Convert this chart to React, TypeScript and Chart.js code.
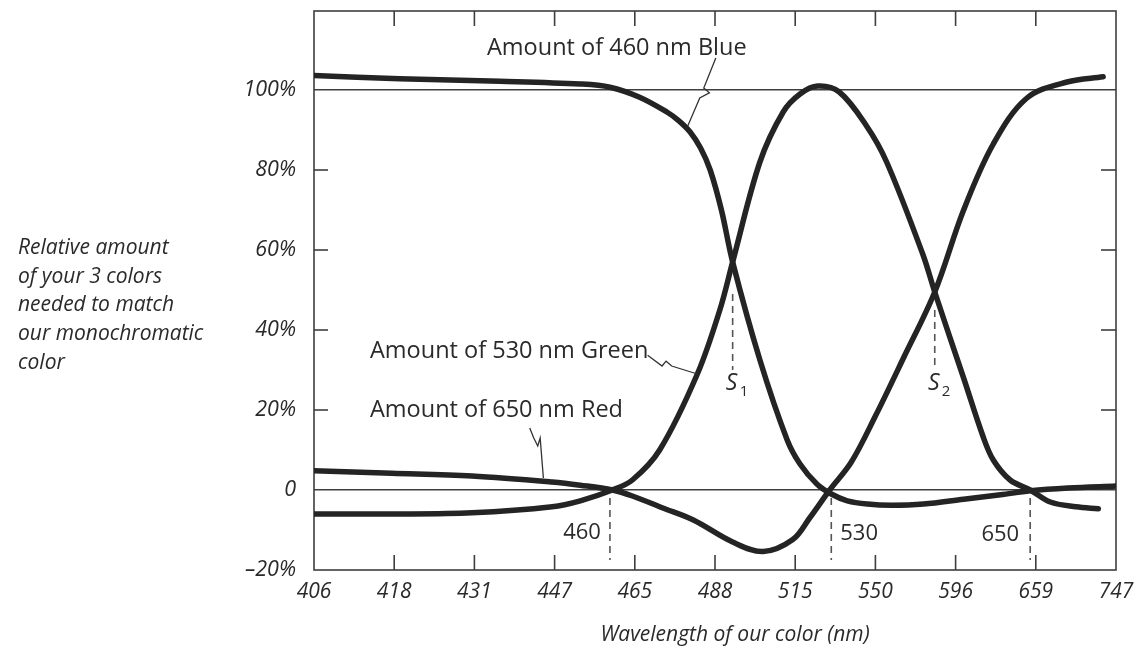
import { useEffect, useRef } from 'react';
import { Chart, registerables } from 'chart.js';

Chart.register(...registerables);

// ---- axis labels ----
const xTickLabels = ['406', '418', '431', '447', '465', '488', '515', '550', '596', '659', '747'];
const yTickValues = [-20, 0, 20, 40, 60, 80, 100];
const yTickLabels = ['–20%', '0', '20%', '40%', '60%', '80%', '100%'];
const yTitleLines = ['Relative amount', 'of your 3 colors', 'needed to match', 'our monochromatic', 'color'];
const xTitle = 'Wavelength of our color (nm)';

// ---- series (x in units of the evenly spaced wavelength ticks, y in %) ----
const blueX = [0, 1.07, 2.32, 3.32, 3.69, 4.06, 4.40, 4.55, 4.69, 4.82, 4.94, 5.08, 5.22, 5.56, 5.90, 6.06, 6.27, 6.45, 6.65, 6.90, 7.20, 7.60, 8.10, 8.56, 8.93, 9.40, 10];
const blueY = [103.6, 102.8, 102.2, 101.5, 100.7, 98.2, 94.5, 92.3, 89.5, 85.5, 80, 70, 57, 32.5, 12.5, 6.5, 1.5, -1, -2.7, -3.5, -3.8, -3.5, -2.3, -1.2, -0.2, 0.5, 1];

const greenX = [0, 0.97, 1.97, 2.97, 3.32, 3.72, 3.97, 4.31, 4.78, 5.06, 5.22, 5.56, 5.85, 6.06, 6.28, 6.55, 6.89, 7.14, 7.59, 7.74, 8.10, 8.34, 8.47, 8.68, 8.93, 9.18, 9.50, 9.78];
const greenY = [-6, -6, -5.7, -4.2, -2.7, 0, 2.5, 10, 29, 45, 57, 82, 94.5, 99, 101, 99.5, 91, 82, 59, 49.5, 28, 13.5, 7.5, 2.5, 0, -3, -4.2, -4.7];

const redX = [0, 0.97, 1.97, 2.97, 3.32, 3.72, 3.97, 4.35, 4.73, 5.22, 5.60, 5.97, 6.18, 6.43, 6.70, 7.00, 7.35, 7.74, 8.10, 8.47, 8.89, 9.39, 9.84];
const redY = [4.8, 4.2, 3.5, 2, 1.2, 0, -1.5, -4.5, -7.5, -13, -15.4, -12.4, -7, 0, 7, 18.5, 33, 49.5, 70, 86.5, 98, 102, 103.3];

// ---- annotations ----
const markerLabels = ['460', '530', '650'];
const markerX = [3.69, 6.45, 8.93];
const sLabels = ['1', '2'];
const sX = [5.22, 7.74];
const seriesNames = ['Amount of 460 nm Blue', 'Amount of 530 nm Green', 'Amount of 650 nm Red'];
// leader lines (data units)
const blueLeader = [[5.01, 108], [4.86, 100.5], [4.93, 99.3], [4.81, 98], [4.66, 91]];
const greenLeader = [[4.16, 33.7], [4.34, 31], [4.39, 32.2], [4.46, 31], [4.78, 29]];
const redLeader = [[2.69, 15.5], [2.74, 13], [2.79, 11], [2.82, 13], [2.86, 3]];

const toPts = (xs: number[], ys: number[]) => xs.map((v, i) => ({ x: v, y: ys[i] }));

const INK = '#242424';
const THIN = '#3e3e3e';
const FONT = '"Open Sans", "DejaVu Sans", sans-serif';

const decorPlugin = {
  id: 'decor',
  beforeDatasetsDraw(chart: any) {
    const { ctx, chartArea: a, scales } = chart;
    const x = scales.x, y = scales.y;
    const line = (x1: number, y1: number, x2: number, y2: number) => {
      ctx.beginPath(); ctx.moveTo(x1, y1); ctx.lineTo(x2, y2); ctx.stroke();
    };
    ctx.save();
    ctx.strokeStyle = THIN;
    ctx.lineWidth = 1.6;
    ctx.strokeRect(a.left, a.top, a.right - a.left, a.bottom - a.top);
    xTickLabels.forEach((_, i) => {
      if (i === 0 || i === xTickLabels.length - 1) return;
      const px = x.getPixelForValue(i);
      line(px, a.bottom, px, a.bottom - 15);
      line(px, a.top, px, a.top + 15);
    });
    yTickValues.forEach((v) => {
      if (v === -20 || v === 0 || v === 100) return;
      const py = y.getPixelForValue(v);
      line(a.left, py, a.left + 14, py);
      line(a.right, py, a.right - 15, py);
    });
    // dashed markers
    ctx.setLineDash([7, 5]);
    ctx.strokeStyle = '#555';
    ctx.lineWidth = 1.6;
    markerX.forEach((m) => {
      const px = x.getPixelForValue(m);
      line(px, y.getPixelForValue(-2), px, y.getPixelForValue(-17.5));
    });
    sX.forEach((m, k) => {
      const px = x.getPixelForValue(m);
      line(px, y.getPixelForValue(k === 0 ? 49 : 45), px, y.getPixelForValue(30));
    });
    ctx.restore();
  },
  afterDatasetsDraw(chart: any) {
    const { ctx, scales } = chart;
    const x = scales.x, y = scales.y;
    ctx.save();
    // leaders
    ctx.strokeStyle = '#333';
    ctx.lineWidth = 1.3;
    [blueLeader, greenLeader, redLeader].forEach((pts) => {
      ctx.beginPath();
      pts.forEach((p, i) => {
        const px = x.getPixelForValue(p[0]);
        const py = y.getPixelForValue(p[1]);
        if (i === 0) ctx.moveTo(px, py); else ctx.lineTo(px, py);
      });
      ctx.stroke();
    });
    ctx.fillStyle = '#2a2a2a';
    ctx.textBaseline = 'middle';
    // series names
    ctx.font = `23.5px ${FONT}`;
    ctx.textAlign = 'left';
    ctx.fillText(seriesNames[0], 487, 48);
    ctx.fillText(seriesNames[1], 370, 351);
    ctx.fillText(seriesNames[2], 370, 410);
    // marker numbers
    ctx.font = `22px ${FONT}`;
    const m0 = x.getPixelForValue(markerX[0]);
    const m1 = x.getPixelForValue(markerX[1]);
    const m2 = x.getPixelForValue(markerX[2]);
    ctx.textAlign = 'right';
    ctx.fillText(markerLabels[0], m0 - 9, 533);
    ctx.textAlign = 'left';
    ctx.fillText(markerLabels[1], m1 + 9, 534);
    ctx.textAlign = 'right';
    ctx.fillText(markerLabels[2], m2 - 11, 535);
    // S1, S2
    sX.forEach((m, k) => {
      const px = x.getPixelForValue(m);
      ctx.font = `italic 23px ${FONT}`;
      ctx.textAlign = 'center';
      ctx.fillText('S', px - 1, 383);
      ctx.font = `15px ${FONT}`;
      ctx.textAlign = 'left';
      ctx.fillText(sLabels[k], px + 7, 392);
    });
    // y title (horizontal, multi-line)
    ctx.font = `italic 21px ${FONT}`;
    ctx.textAlign = 'left';
    yTitleLines.forEach((t, k) => ctx.fillText(t, 18, 248 + k * 28.7));
    // x title
    ctx.textAlign = 'center';
    ctx.fillText(xTitle, 735, 635);
    ctx.restore();
  },
};

export default function App() {
  const ref = useRef<HTMLCanvasElement | null>(null);
  useEffect(() => {
    if (!ref.current) return;
    const ds = (pts: any) => ({
      data: pts,
      borderColor: INK,
      borderWidth: 5.5,
      pointRadius: 0,
      fill: false,
      tension: 0.35,
      borderCapStyle: 'round' as const,
    });
    const chart = new Chart(ref.current, {
      type: 'line',
      data: {
        datasets: [
          ds(toPts(blueX, blueY)),
          ds(toPts(greenX, greenY)),
          ds(toPts(redX, redY)),
        ],
      },
      options: {
        animation: false,
        responsive: false,
        devicePixelRatio: 1,
        layout: { padding: { left: 0, top: 11, right: 32, bottom: 0 } },
        plugins: { legend: { display: false }, tooltip: { enabled: false } },
        scales: {
          x: {
            type: 'linear',
            min: 0,
            max: 10,
            afterBuildTicks: (s: any) => { s.ticks = xTickLabels.map((_, i) => ({ value: i })); },
            afterFit: (s: any) => { s.height = 82; },
            ticks: {
              callback: (_v: any, i: number) => xTickLabels[i],
              font: { family: FONT, style: 'italic', size: 21 },
              color: '#2a2a2a',
              padding: 1,
              maxRotation: 0,
              autoSkip: false,
            },
            grid: { display: false },
            border: { display: false },
          },
          y: {
            type: 'linear',
            min: -20,
            max: 119.75,
            afterBuildTicks: (s: any) => { s.ticks = yTickValues.map((v) => ({ value: v })); },
            afterFit: (s: any) => { s.width = 314; s.paddingTop = 0; s.paddingBottom = 0; },
            ticks: {
              callback: (_v: any, i: number) => yTickLabels[i],
              font: { family: FONT, style: 'italic', size: 21.5 },
              color: '#2a2a2a',
              padding: 18,
            },
            grid: {
              drawTicks: false,
              lineWidth: 1.4,
              color: (c: any) => (c.tick && (c.tick.value === 0 || c.tick.value === 100) ? THIN : 'rgba(0,0,0,0)'),
            },
            border: { display: false },
          },
        },
      },
      plugins: [decorPlugin],
    });
    return () => chart.destroy();
  }, []);
  return (
    <div style={{ position: 'fixed', left: 0, top: 0, width: 1148, height: 652, background: '#fff' }}>
      <canvas ref={ref} width={1148} height={652} style={{ display: 'block' }} />
    </div>
  );
}
